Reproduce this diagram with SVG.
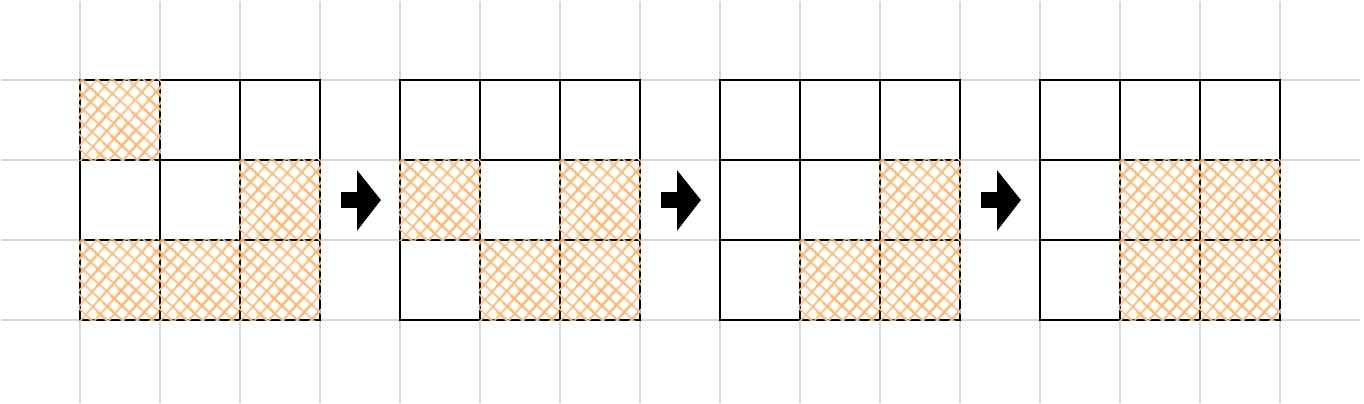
<svg xmlns="http://www.w3.org/2000/svg" width="1364" height="404" viewBox="0 0 1364 404">
<style>
.bg{stroke:#d9d9d9;stroke-width:2;fill:none}
.cell{fill:none;stroke:#000;stroke-width:2}
.h1{fill:url(#hA);stroke:none}
.h2{fill:url(#hB);stroke:none}
.arrow{fill:#000}
</style>
<defs>
<pattern id="hA" patternUnits="userSpaceOnUse" width="10.5" height="60" patternTransform="rotate(42)">
<line x1="1" y1="0" x2="1.8" y2="60" stroke="#ffb266" stroke-width="1.6"/>
<line x1="2.6" y1="0" x2="1.6" y2="60" stroke="#ffbf80" stroke-width="1"/>
</pattern>
<pattern id="hB" patternUnits="userSpaceOnUse" width="10.5" height="60" patternTransform="rotate(-47)">
<line x1="1" y1="0" x2="1.8" y2="60" stroke="#ffb266" stroke-width="1.6"/>
<line x1="2.6" y1="0" x2="1.6" y2="60" stroke="#ffbf80" stroke-width="1"/>
</pattern>
<g id="hc">
<rect class="cell" x="0" y="0" width="80" height="80"/>
<rect class="h1" x="-1" y="-1" width="82" height="82"/>
<rect class="h2" x="-1" y="-1" width="82" height="82"/>
</g>
<rect id="pc" class="cell" x="0" y="0" width="80" height="80"/>
</defs>
<g id="background-grid">
<path class="bg" d="M80 1V403M160 1V403M240 1V403M320 1V403M400 1V403M480 1V403M560 1V403M640 1V403M720 1V403M800 1V403M880 1V403M960 1V403M1040 1V403M1120 1V403M1200 1V403M1280 1V403"/>
<path class="bg" d="M1 80H1360M1 160H1360M1 240H1360M1 320H1360"/>
</g>
<g id="grid-1">
<use href="#pc" x="160" y="80"/><use href="#pc" x="240" y="80"/>
<use href="#pc" x="80" y="160"/><use href="#pc" x="160" y="160"/>
<use href="#hc" x="80" y="80"/>
<use href="#hc" x="240" y="160"/>
<use href="#hc" x="80" y="240"/><use href="#hc" x="160" y="240"/><use href="#hc" x="240" y="240"/>
</g>
<g id="grid-2">
<use href="#pc" x="400" y="80"/><use href="#pc" x="480" y="80"/><use href="#pc" x="560" y="80"/>
<use href="#pc" x="480" y="160"/><use href="#pc" x="400" y="240"/>
<use href="#hc" x="400" y="160"/><use href="#hc" x="560" y="160"/>
<use href="#hc" x="480" y="240"/><use href="#hc" x="560" y="240"/>
</g>
<g id="grid-3">
<use href="#pc" x="720" y="80"/><use href="#pc" x="800" y="80"/><use href="#pc" x="880" y="80"/>
<use href="#pc" x="720" y="160"/><use href="#pc" x="800" y="160"/><use href="#pc" x="720" y="240"/>
<use href="#hc" x="880" y="160"/>
<use href="#hc" x="800" y="240"/><use href="#hc" x="880" y="240"/>
</g>
<g id="grid-4">
<use href="#pc" x="1040" y="80"/><use href="#pc" x="1120" y="80"/><use href="#pc" x="1200" y="80"/>
<use href="#pc" x="1040" y="160"/><use href="#pc" x="1040" y="240"/>
<use href="#hc" x="1120" y="160"/><use href="#hc" x="1200" y="160"/>
<use href="#hc" x="1120" y="240"/><use href="#hc" x="1200" y="240"/>
</g>
<g id="connectors">
<polygon class="arrow" points="341,192 357,192 357,170 381,200 357,231 357,208 341,208"/>
<polygon class="arrow" points="661,192 677,192 677,170 701,200 677,231 677,208 661,208"/>
<polygon class="arrow" points="981,192 997,192 997,170 1021,200 997,231 997,208 981,208"/>
</g>
</svg>
